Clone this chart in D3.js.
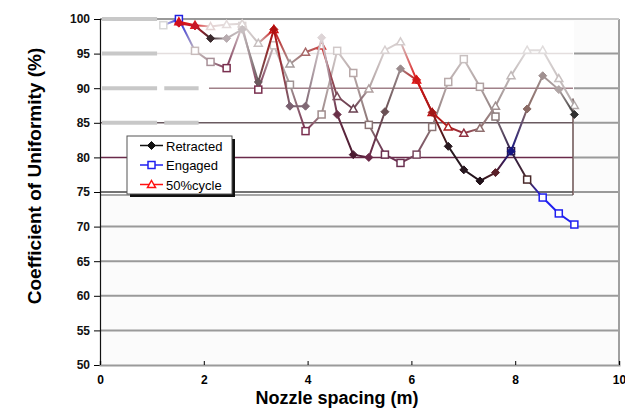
<!DOCTYPE html>
<html>
<head>
<meta charset="utf-8">
<script src="https://cdn.jsdelivr.net/npm/d3@7/dist/d3.min.js"></script>
<style>
  body { margin: 0; background: #fff; }
  svg text { font-family: Arial, "Liberation Sans", sans-serif; }
</style>
</head>
<body>
<svg id="chart" width="625" height="410"></svg>
<script>
let spacing = [1.52, 1.83, 2.13, 2.44, 2.74, 3.05, 3.35, 3.66, 3.96, 4.27, 4.57, 4.88, 5.18,
    5.49, 5.79, 6.10, 6.40, 6.71, 7.01, 7.32, 7.62, 7.92, 8.23, 8.53, 8.84, 9.14]
let engagedSpacing = [1.22].concat(spacing)

let retracted = [99.4, 99.0, 97.2, 97.2, 98.5, 90.9, 98.5, 87.4, 87.4, 97.3, 86.2, 80.4, 80.0,
    86.6, 92.8, 91.2, 86.5, 81.6, 78.2, 76.6, 77.8, 80.9, 87.0, 91.8, 89.8, 86.2]
let engaged = [99.1, 100.0, 95.4, 93.8, 92.9, 99.0, 89.8, 96.2, 90.5, 83.8, 86.2, 95.4, 92.2, 84.7,
    80.4, 79.2, 80.4, 84.4, 90.9, 94.2, 90.2, 85.9, 80.9, 76.8, 74.2, 71.9, 70.3]
let halfCycle = [99.6, 99.1, 98.9, 99.2, 99.3, 96.5, 98.5, 93.5, 95.2, 96.1, 88.8, 87.0, 89.9,
    95.5, 96.7, 91.2, 86.5, 84.4, 83.5, 84.2, 87.4, 91.8, 95.5, 95.5, 91.4, 87.5]

let yTicks = [50, 55, 60, 65, 70, 75, 80, 85, 90, 95, 100]
let xTicks = [0, 2, 4, 6, 8, 10]

// colour of each point, the lines fade between them
let retractedColors = ['#d01020', '#c81828', '#3a2a2e', '#b8acb0', '#c8c0c2', '#6a5a5e', '#b01010',
    '#7a6070', '#806874', '#ddd4d6', '#6a3048', '#4a1a30', '#6a2848', '#6a5054', '#9a8a8c', '#d01818',
    '#a01818', '#2a1a20', '#281820', '#201018', '#5a2028', '#141480', '#8a6a64', '#a09090', '#b0a4a4', '#303030']
let engagedColors = ['#d8d8d8', '#2020e0', '#c8bcbc', '#a89098', '#7a3050', '#dcd4d4', '#7a3050',
    '#c8c0c0', '#a09494', '#7a3050', '#a08c8c', '#d0c8c8', '#b8a8a8', '#8a7474', '#6a3050', '#6a3050',
    '#7a4a60', '#8a7474', '#b8aaaa', '#c8c0c0', '#b0a2a2', '#8a7a7a', '#2a1a4a', '#4a2a2a', '#2020f0', '#2020f0', '#2020f0']
let halfCycleColors = ['#e01010', '#e02020', '#e4d4d4', '#e4dcdc', '#dcd4d4', '#c8c0c0', '#d01010',
    '#a49a9a', '#a86868', '#d04040', '#7a4a5a', '#6a4050', '#b0a0a0', '#d8d0d0', '#d4cccc', '#e01010',
    '#c01010', '#b02020', '#903040', '#907070', '#a09090', '#c0b8b8', '#e0dcdc', '#e0dcdc', '#c8c0c0', '#b0a8a8']

let series = [
    { name: 'Engaged', xs: engagedSpacing, ys: engaged, colors: engagedColors, shape: 'square', key: '#2020f0' },
    { name: '50%cycle', xs: spacing, ys: halfCycle, colors: halfCycleColors, shape: 'triangle', key: '#ff1010' },
    { name: 'Retracted', xs: spacing, ys: retracted, colors: retractedColors, shape: 'diamond', key: '#111' }
]

let svg = d3.select('#chart'),
    x = d3.scaleLinear().domain([0, 10]).range([100, 619]),
    y = d3.scaleLinear().domain([50, 100]).range([365, 19])

svg.append('rect')
    .attr('x', x(0)).attr('y', y(100))
    .attr('width', x(10) - x(0)).attr('height', y(50) - y(100))
    .attr('fill', '#fbfbfb')

// gridlines
svg.append('g').selectAll('line')
    .data(yTicks.slice(1))
    .join('line')
    .attr('x1', x(0)).attr('x2', x(10))
    .attr('y1', d => y(d)).attr('y2', d => y(d))
    .attr('stroke', '#9a9a9a')
    .attr('stroke-width', 2)

// the inner ghost frame over the top part
svg.append('rect')
    .attr('x', x(0) + 1).attr('y', y(100) + 2)
    .attr('width', 573 - x(0)).attr('height', y(75) - y(100))
    .attr('fill', '#fff')

let inner = [
    { v: 95, c: '#e4dede', w: 1.5, from: 1.1 },
    { v: 90, c: '#a08088', w: 1.5, from: 2.1 },
    { v: 85, c: '#6a5a60', w: 1.5, from: 0 },
    { v: 80, c: '#6a2a4a', w: 1.5, from: 0 },
    { v: 75, c: '#444', w: 1.5, from: 0 }
]
svg.append('g').selectAll('line')
    .data(inner)
    .join('line')
    .attr('x1', d => x(d.from)).attr('x2', 573)
    .attr('y1', d => y(d.v)).attr('y2', d => y(d.v))
    .attr('stroke', d => d.c)
    .attr('stroke-width', d => d.w)

svg.append('line')
    .attr('x1', x(0)).attr('x2', 573)
    .attr('y1', y(75) + 3).attr('y2', y(75) + 3)
    .attr('stroke', '#8a8a8a').attr('stroke-width', 1.5)
svg.append('line')
    .attr('x1', 573).attr('x2', 573)
    .attr('y1', y(88.5)).attr('y2', y(75) + 3)
    .attr('stroke', '#6a5050').attr('stroke-width', 1.5)

// thick pale bits at the left
let pale = [[100, 0, 1.1], [95, 0, 1.1], [90, 0, 1.1], [85, 0, 1.1], [90, 1.2, 1.9], [85, 1.2, 1.9]]
svg.append('g').selectAll('line')
    .data(pale)
    .join('line')
    .attr('x1', d => x(d[1]) + 2).attr('x2', d => x(d[2]))
    .attr('y1', d => y(d[0])).attr('y2', d => y(d[0]))
    .attr('stroke', '#c8c8c8')
    .attr('stroke-width', 4)

// right and top border
svg.append('line')
    .attr('x1', x(10)).attr('x2', x(10)).attr('y1', y(100)).attr('y2', y(50))
    .attr('stroke', '#a0a0a0').attr('stroke-width', 2)
svg.append('line')
    .attr('x1', 470).attr('x2', x(10)).attr('y1', y(100)).attr('y2', y(100))
    .attr('stroke', '#c8c8c8').attr('stroke-width', 2)

// axes
let yAxis = svg.append('g')
    .attr('transform', `translate(${x(0)},0)`)
    .call(d3.axisLeft(y).tickValues(yTicks).tickSize(6).tickPadding(4))
yAxis.select('.domain').attr('stroke', '#111').attr('stroke-width', 1.2)
yAxis.selectAll('text').attr('font-size', 12).attr('font-weight', 'bold').attr('fill', '#111')
    .attr('font-family', 'Arial, "Liberation Sans", sans-serif')

let xAxis = svg.append('g')
    .attr('transform', `translate(0,${y(50)})`)
    .call(d3.axisBottom(x).tickValues(xTicks).tickSize(-4).tickPadding(10))
xAxis.select('.domain').attr('stroke', '#9a9a9a').attr('stroke-width', 2)
xAxis.selectAll('text').attr('font-size', 12).attr('font-weight', 'bold').attr('fill', '#000')
    .attr('font-family', 'Arial, "Liberation Sans", sans-serif')

svg.append('text')
    .attr('x', 337).attr('y', 404)
    .attr('text-anchor', 'middle')
    .attr('font-size', 18).attr('font-weight', 'bold')
    .text('Nozzle spacing (m)')

svg.append('text')
    .attr('transform', 'translate(41,176) rotate(-90)')
    .attr('text-anchor', 'middle')
    .attr('font-size', 19).attr('font-weight', 'bold')
    .text('Coefficient of Uniformity (%)')

// series
let defs = svg.append('defs')

function marker(g, shape, cx, cy, color) {
    if (shape === 'square') {
        g.append('rect')
            .attr('x', cx - 3.5).attr('y', cy - 3.5).attr('width', 7).attr('height', 7)
            .attr('fill', '#fff').attr('stroke', color).attr('stroke-width', 1.5)
    } else if (shape === 'triangle') {
        g.append('path')
            .attr('d', `M${cx},${cy - 4}L${cx + 4},${cy + 3}L${cx - 4},${cy + 3}Z`)
            .attr('fill', '#fff').attr('stroke', color).attr('stroke-width', 1.5)
    } else {
        g.append('path')
            .attr('d', `M${cx},${cy - 4}L${cx + 4},${cy}L${cx},${cy + 4}L${cx - 4},${cy}Z`)
            .attr('fill', color).attr('stroke', color).attr('stroke-width', 1)
    }
}

series.forEach((s, i) => {
    let x0 = x(s.xs[0]), x1 = x(s.xs[s.xs.length - 1])
    let grad = defs.append('linearGradient')
        .attr('id', 'grad' + i)
        .attr('gradientUnits', 'userSpaceOnUse')
        .attr('x1', x0).attr('x2', x1).attr('y1', 0).attr('y2', 0)
    s.xs.forEach((v, j) => {
        grad.append('stop')
            .attr('offset', (x(v) - x0) / (x1 - x0))
            .attr('stop-color', s.colors[j])
    })

    let pts = s.xs.map((v, j) => [x(v), y(s.ys[j])])
    let g = svg.append('g')
    g.append('path')
        .attr('d', d3.line()(pts))
        .attr('fill', 'none')
        .attr('stroke', `url(#grad${i})`)
        .attr('stroke-width', 2)
    pts.forEach((p, j) => marker(g, s.shape, p[0], p[1], s.colors[j]))
})

// legend
let lg = svg.append('g').attr('transform', 'translate(127,136)')
lg.append('rect').attr('x', 3).attr('y', 3).attr('width', 105).attr('height', 58).attr('fill', '#111')
lg.append('rect').attr('x', 0).attr('y', 0).attr('width', 105).attr('height', 58)
    .attr('fill', '#fff').attr('stroke', '#555').attr('stroke-width', 1)

let legendOrder = [series[2], series[0], series[1]]
legendOrder.forEach((s, i) => {
    let ly = 9.5 + i * 19.5
    lg.append('line')
        .attr('x1', 13).attr('x2', 36).attr('y1', ly).attr('y2', ly)
        .attr('stroke', s.key).attr('stroke-width', 1.5)
    marker(lg, s.shape, 24.5, ly, s.key)
    lg.append('text')
        .attr('x', 39).attr('y', ly + 5)
        .attr('font-size', 13)
        .text(s.name)
})
</script>
</body>
</html>
